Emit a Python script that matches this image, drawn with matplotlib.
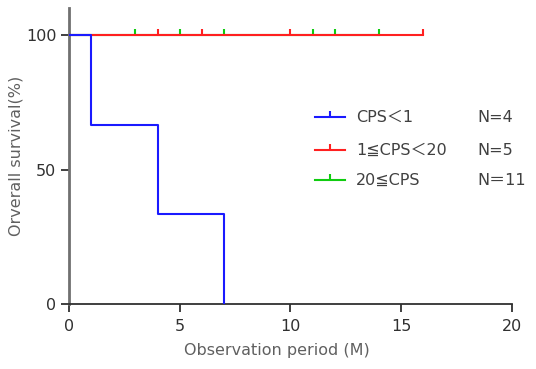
import numpy as np
import matplotlib
matplotlib.use('Agg')
import matplotlib.pyplot as plt

# Kaplan-Meier step data
blue_t = [0, 1, 1, 4, 4, 7, 7]
blue_s = [100, 100, 66.7, 66.7, 33.3, 33.3, 0]

red_end = 16
red_cens = [4, 6, 10, 16]
green_end = 14
green_cens = [3, 5, 7, 11, 12, 14]

labels = ['CPS＜1', '1≦CPS＜20', '20≦CPS']
n_labels = ['N=4', 'N=5', 'N＝11']
colors = ['#1a1aff', '#ff2020', '#10cc10']

plt.rcParams['font.family'] = ['DejaVu Sans', 'Noto Sans CJK JP']

fig = plt.figure(figsize=(5.36, 3.69), dpi=100)
ax = fig.add_axes([0.1287, 0.176, 0.8265, 0.802])

# green first so red lies on top
ax.plot([0, green_end], [100, 100], color=colors[2], lw=1.5, zorder=2)
ax.plot(green_cens, [100]*len(green_cens), ls='none', marker=2, ms=4,
        mew=1.5, color=colors[2], zorder=3)
ax.plot([0, red_end], [100, 100], color=colors[1], lw=1.5, zorder=4)
ax.plot(red_cens, [100]*len(red_cens), ls='none', marker=2, ms=4,
        mew=1.5, color=colors[1], zorder=5)
ax.plot(blue_t, blue_s, color=colors[0], lw=1.5, zorder=6)

ax.set_xlim(0, 20)
ax.set_ylim(0, 110)
ax.set_xticks([0, 5, 10, 15, 20])
ax.set_yticks([0, 50, 100])
ax.spines['top'].set_visible(False)
ax.spines['right'].set_visible(False)
ax.spines['left'].set_color('#707070')
ax.spines['left'].set_linewidth(2)
ax.spines['bottom'].set_color('#303030')
ax.spines['bottom'].set_linewidth(1.3)
ax.tick_params(labelsize=11.5, colors='#303030', length=6, width=1.3)
ax.tick_params(axis='x', pad=5)
ax.tick_params(axis='y', pad=3)
for lab in ax.get_xticklabels() + ax.get_yticklabels():
    lab.set_color('#303030')
ax.set_xlabel('Observation period (M)', fontsize=11.5, color='#606060', labelpad=4)
ax.xaxis.set_label_coords(0.47, -0.13)
ax.set_ylabel('Orverall survival(%)', fontsize=11.5, color='#606060', labelpad=2)

# legend drawn by hand
rows_y = [69.5, 57.2, 46.1]
for lab, nl, c, yy in zip(labels, n_labels, colors, rows_y):
    ax.plot([11.1, 12.45], [yy, yy], color=c, lw=1.5)
    ax.plot([11.8], [yy], marker=2, ms=4, mew=1.5, color=c)
    ax.text(12.95, yy, lab, fontsize=11.5, color='#404040', va='center')
    ax.text(18.45, yy, nl, fontsize=11.5, color='#404040', va='center')

fig.savefig('out.png', dpi=100)
